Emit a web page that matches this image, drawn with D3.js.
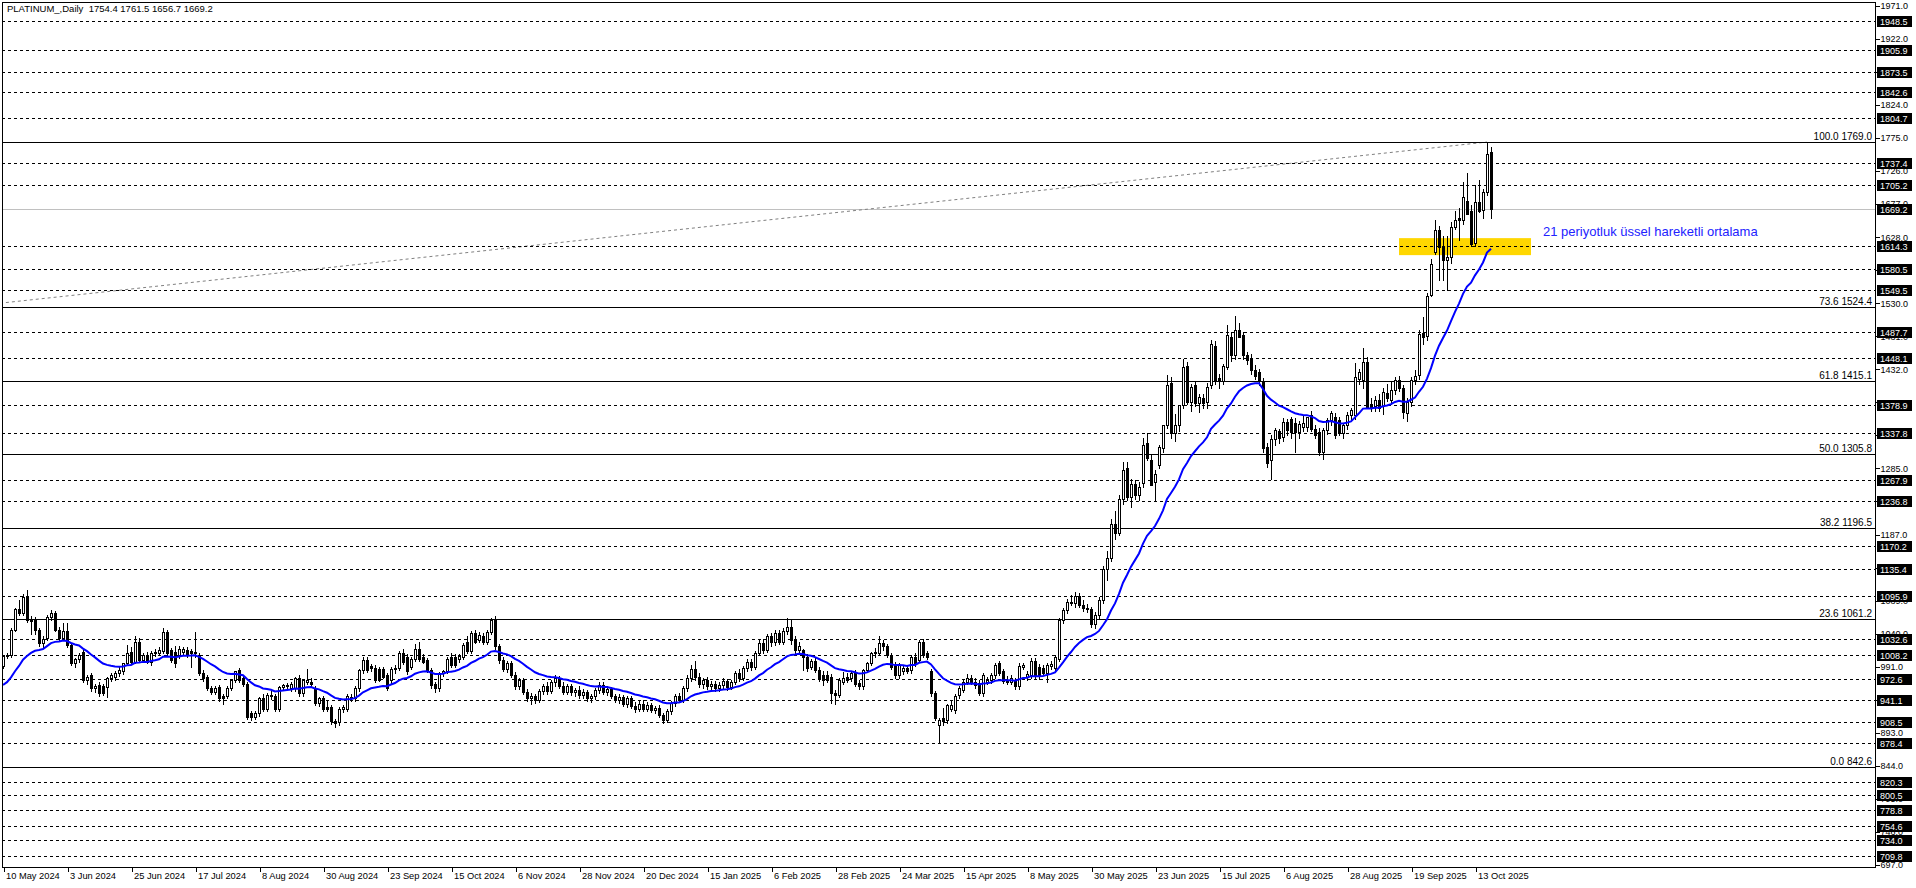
<!DOCTYPE html>
<html><head><meta charset="utf-8">
<script src="https://cdn.jsdelivr.net/npm/d3@7"></script>
<style>html,body{margin:0;padding:0;background:#fff;overflow:hidden}text{font-family:"Liberation Sans",Arial,sans-serif}</style>
</head><body><svg id="c" width="1916" height="888"></svg>
<script>
const title = "PLATINUM_,Daily  1754.4 1761.5 1656.7 1669.2";
const dateLabels = ["10 May 2024","3 Jun 2024","25 Jun 2024","17 Jul 2024","8 Aug 2024","30 Aug 2024","23 Sep 2024","15 Oct 2024","6 Nov 2024","28 Nov 2024","20 Dec 2024","15 Jan 2025","6 Feb 2025","28 Feb 2025","24 Mar 2025","15 Apr 2025","8 May 2025","30 May 2025","23 Jun 2025","15 Jul 2025","6 Aug 2025","28 Aug 2025","19 Sep 2025","13 Oct 2025"];
const opens = [
992,1007,1008,1046,1076,1071,1095,1061,1061,1046,1026,1033,1065,1071,1046,1033,
1044,1023,997,1002,1013,971,979,959,964,962,961,974,976,981,984,997,
1013,998,1028,1001,1008,998,1011,1012,1014,1043,1016,1013,1008,1013,1016,1015,
1011,1008,981,976,959,954,961,947,947,959,971,986,974,966,922,917,
922,944,929,949,947,929,961,962,959,959,974,952,969,969,959,937,
944,932,932,910,909,929,929,944,944,959,986,1001,992,989,987,988,
978,971,987,989,1011,1006,991,1003,1018,1006,1001,986,965,959,981,984,
1006,1005,1003,1006,1028,1015,1041,1031,1037,1028,1043,1061,1021,1001,988,996,
979,962,971,954,944,948,941,955,962,955,968,974,963,954,962,953,
957,949,954,944,947,956,964,953,958,947,942,946,936,944,933,928,
936,929,934,927,930,919,912,925,937,948,941,959,974,988,976,965,
971,962,966,959,964,970,961,968,982,974,989,998,990,1012,1026,1016,
1036,1027,1041,1028,1044,1050,1030,1016,1016,1006,991,999,986,979,979,976,
952,949,969,976,974,982,967,962,986,996,1011,1011,1026,1021,1008,994,
979,984,989,986,1006,1001,1028,1011,984,952,905,915,912,929,927,949,
957,969,974,969,967,952,969,971,979,996,984,972,969,971,962,991,
976,979,1000,991,989,981,992,989,1003,1060,1075,1087,1085,1096,1083,1078,
1076,1054,1068,1090,1136,1152,1203,1190,1240,1285,1242,1262,1246,1263,1322,1297,
1265,1290,1315,1349,1411,1337,1349,1379,1437,1384,1409,1382,1389,1384,1409,1466,
1419,1414,1436,1480,1453,1491,1483,1453,1448,1431,1428,1414,1317,1297,1328,1340,
1332,1354,1358,1352,1339,1346,1347,1364,1344,1339,1310,1342,1357,1362,1357,1337,
1349,1364,1364,1418,1416,1443,1381,1377,1386,1377,1397,1386,1401,1416,1404,1367,
1384,1416,1424,1486,1482,1542,1606,1639,1614,1594,1599,1643,1656,1653,1682,1667,
1619,1680,1668,1695,1754.4];
const highs = [
1009,1012,1048,1078,1090,1099,1105,1066,1064,1049,1037,1068,1075,1074,1050,1056,
1056,1026,1004,1012,1016,979,982,966,968,965,976,981,984,990,997,1023,
1020,1036,1034,1012,1013,1015,1018,1020,1049,1046,1019,1021,1021,1020,1020,1017,
1043,1012,986,979,963,962,964,950,962,973,985,989,979,969,926,925,
946,950,952,956,950,963,966,967,968,976,978,973,987,974,962,946,
947,940,934,913,931,934,950,950,962,988,1006,1006,995,993,990,991,
981,990,993,1014,1017,1010,1006,1024,1027,1010,1004,989,968,983,986,1006,
1011,1010,1010,1026,1036,1044,1046,1042,1041,1046,1063,1066,1024,1005,1000,999,
983,975,974,958,952,951,958,966,968,972,978,977,968,966,965,960,
962,958,957,951,960,968,968,962,961,951,950,949,948,947,938,940,
942,938,937,933,934,923,928,940,951,952,962,978,994,999,981,975,
976,970,970,968,975,973,972,985,988,992,1002,1003,1015,1030,1032,1040,
1041,1045,1046,1048,1063,1061,1036,1028,1018,1010,1003,1004,990,984,985,980,
956,974,983,981,984,986,971,988,998,1013,1019,1037,1031,1024,1012,998,
996,993,994,1008,1012,1031,1032,1014,988,955,915,930,936,940,950,962,
972,980,978,974,971,981,976,982,996,1000,987,977,978,975,996,997,
984,1004,1004,995,993,996,999,1009,1063,1078,1092,1098,1102,1101,1090,1084,
1080,1072,1095,1140,1162,1210,1222,1245,1295,1295,1270,1268,1265,1330,1337,1305,
1282,1320,1350,1423,1420,1365,1372,1447,1443,1410,1415,1395,1396,1412,1476,1474,
1425,1440,1498,1487,1511,1501,1487,1458,1455,1438,1432,1419,1322,1335,1345,1344,
1360,1358,1362,1360,1355,1364,1362,1370,1350,1345,1345,1360,1370,1367,1362,1352,
1368,1375,1441,1432,1463,1450,1390,1393,1396,1405,1410,1415,1420,1422,1408,1390,
1420,1431,1490,1510,1545,1595,1653,1645,1630,1629,1650,1666,1671,1710,1723,1676,
1705,1713,1700,1769,1761.5];
const lows = [
989,1004,1006,1044,1068,1068,1058,1040,1040,1022,1020,1030,1060,1044,1030,1030,
1020,994,990,998,968,966,955,953,948,949,946,970,972,977,980,994,
996,996,998,998,996,994,1007,1008,1011,1007,998,991,1004,1009,1005,990,
1005,978,970,956,950,950,940,936,944,956,968,968,963,913,912,913,
918,925,926,943,926,926,957,958,955,955,948,948,965,962,934,933,
926,926,906,902,905,924,925,940,940,955,982,983,984,969,970,974,
957,967,982,986,995,980,987,1000,1000,996,983,960,953,955,977,981,
991,990,998,1003,1012,1011,1026,1027,1025,1025,1040,1018,996,985,983,976,
958,958,950,940,936,937,938,950,951,952,963,960,950,950,949,948,
945,945,940,938,943,952,950,949,944,938,937,933,932,930,924,925,
925,926,924,922,916,908,909,921,933,938,938,955,970,972,961,960,
958,957,955,955,960,957,958,965,970,971,985,986,987,1008,1012,1013,
1022,1023,1024,1024,1040,1025,1012,1010,986,985,987,983,970,964,968,937,
936,946,966,968,970,963,958,958,983,993,1005,1008,1016,1005,988,975,
975,980,981,982,992,998,1005,1003,948,912,877.5,905,908,926,922,945,
953,965,965,960,949,948,965,967,975,978,967,966,965,958,958,987,
972,975,974,973,978,969,988,985,1000,1056,1070,1082,1080,1080,1074,1072,
1050,1048,1063,1086,1120,1148,1180,1186,1232,1238,1228,1240,1238,1258,1298,1260,
1238,1285,1310,1345,1330,1325,1340,1375,1380,1370,1378,1368,1375,1375,1405,1410,
1405,1410,1432,1445,1448,1480,1448,1440,1425,1418,1408,1310,1287,1269,1320,1322,
1325,1335,1330,1310,1330,1340,1340,1340,1330,1305,1299,1336,1350,1330,1335,1330,
1344,1358,1358,1410,1405,1375,1370,1370,1370,1365,1385,1380,1395,1400,1360,1355,
1378,1410,1418,1470,1475,1540,1603,1564,1565,1550,1590,1640,1624,1648,1662,1615,
1615,1665,1656,1690,1656.7];
const closes = [
1007,1009,1046,1076,1070,1095,1060,1059,1046,1026,1032,1065,1071,1046,1033,1044,
1023,997,1002,1008,971,976,959,963,952,952,974,979,982,986,996,1012,
998,1028,1001,1008,998,1012,1013,1016,1043,1011,1001,996,1018,1018,1008,1011,
1013,981,974,959,954,959,944,944,959,971,984,971,966,917,917,922,
944,929,949,947,929,961,964,964,965,974,952,971,971,966,937,944,
929,929,910,907,929,931,947,946,959,986,1001,986,989,971,972,976,
959,988,989,1011,998,984,1003,1018,1003,998,986,964,959,981,984,1003,
994,993,1007,1023,1015,1041,1028,1038,1028,1043,1061,1021,1001,988,996,979,
962,971,954,944,948,941,955,962,955,968,974,963,954,962,953,957,
949,954,944,947,956,964,953,958,947,942,946,936,944,933,928,936,
929,934,927,930,919,912,925,937,948,941,959,974,988,976,965,971,
962,966,959,964,970,961,968,982,974,989,998,990,1012,1026,1016,1036,
1027,1041,1028,1044,1050,1030,1016,1022,1006,989,999,986,974,971,971,952,
949,971,974,971,981,966,962,986,996,1011,1013,1026,1021,1008,991,979,
994,989,984,1006,996,1028,1008,1006,952,915,912,910,934,934,947,959,
969,974,969,964,952,979,972,979,994,981,970,969,974,962,992,994,
980,1000,977,977,981,994,995,1006,1060,1075,1087,1085,1096,1083,1078,1076,
1054,1068,1090,1136,1152,1203,1190,1240,1282,1242,1262,1246,1258,1320,1300,1260,
1277,1317,1349,1409,1337,1349,1379,1436,1384,1406,1382,1391,1382,1406,1470,1414,
1414,1437,1483,1453,1491,1480,1453,1446,1431,1422,1414,1315,1293,1329,1342,1330,
1354,1342,1339,1339,1351,1352,1362,1344,1335,1310,1342,1357,1367,1335,1337,1349,
1364,1372,1421,1428,1443,1376,1374,1387,1374,1399,1389,1401,1416,1404,1369,1384,
1416,1422,1485,1480,1540,1588,1638,1614,1594,1599,1643,1654,1653,1688,1663,1618,
1680,1666,1695,1751,1669.2];
const emaPeriod = 21;
const emaSeed = 964;
const priceTicks = [1971,1922,1873,1824,1775,1726,1677,1628,1579,1530,1481,1432,1383,1334,1285,1236,1187,1138,1089,1040,991,942,893,844,795,746,697];
const levelLines = [1948.5,1905.9,1873.5,1842.6,1804.7,1737.4,1705.2,1614.3,1580.5,1549.5,1487.7,1448.1,1378.9,1337.8,1267.9,1236.8,1170.2,1135.4,1095.9,1032.6,1008.2,972.6,941.1,908.5,878.4,820.3,800.5,778.8,754.6,734.0,709.8];
const bidPrice = 1669.2;
const fibRatios = ["0.0","23.6","38.2","50.0","61.8","73.6","100.0"];
const fibPrices = [842.6,1061.2,1196.5,1305.8,1415.1,1524.4,1769.0];
const fibAnchorBars = [-1070, 371];
const fibAnchorPrices = [842.6, 1769.0];
const zoneBars = [349, 382];
const zonePrices = [1601.3, 1626.5];
const noteText = "21 periyotluk üssel hareketli ortalama";
const noteBar = 385, notePrice = 1630;

// ---- layout ----
const L = 2, T = 2, R = 1875, B = 867;
const n = closes.length;
const barStep = 4;
const x = d3.scaleLinear().domain([0, n - 1]).range([3, 3 + barStep * (n - 1)]);
const y = d3.scaleLinear().domain([697, 1971]).range([865, 5.8]);
const py = p => Math.round(y(p)) + 0.5;
const px = i => Math.round(x(i));

const svg = d3.select("#c");
svg.append("rect").attr("width",1916).attr("height",888).attr("fill","#fff");
svg.append("defs").append("clipPath").attr("id","pc").append("rect")
  .attr("x",L+1).attr("y",T+1).attr("width",R-L-1).attr("height",B-T-1);
const g = svg.append("g").attr("clip-path","url(#pc)");

// zone
g.append("rect").attr("x",x(zoneBars[0])).attr("width",x(zoneBars[1])-x(zoneBars[0]))
  .attr("y",y(zonePrices[1])).attr("height",y(zonePrices[0])-y(zonePrices[1]))
  .attr("fill","#FFD700");

// bid line
g.append("line").attr("x1",L).attr("x2",R).attr("y1",py(bidPrice)).attr("y2",py(bidPrice))
  .attr("stroke","#c0c0c0").attr("stroke-width",1);

// fib diagonal
g.append("line").attr("x1",x(fibAnchorBars[0])).attr("y1",y(fibAnchorPrices[0]))
  .attr("x2",x(fibAnchorBars[1])).attr("y2",y(fibAnchorPrices[1]))
  .attr("stroke","#808080").attr("stroke-width",1).attr("stroke-dasharray","3,3");

// level lines
g.selectAll("line.lv").data(levelLines).join("line").attr("class","lv")
  .attr("x1",L).attr("x2",R).attr("y1",d=>py(d)).attr("y2",d=>py(d))
  .attr("stroke","#000").attr("stroke-width",1).attr("stroke-dasharray","3,3")
  .attr("shape-rendering","crispEdges");

// fib lines
g.selectAll("line.fb").data(fibPrices).join("line").attr("class","fb")
  .attr("x1",L).attr("x2",R).attr("y1",d=>py(d)).attr("y2",d=>py(d))
  .attr("stroke","#000").attr("stroke-width",1).attr("shape-rendering","crispEdges");

// candles
const idx = d3.range(n);
const cg = g.append("g").attr("shape-rendering","crispEdges");
cg.selectAll("line.w").data(idx).join("line").attr("class","w")
  .attr("x1",i=>px(i)+0.5).attr("x2",i=>px(i)+0.5)
  .attr("y1",i=>Math.round(y(highs[i]))).attr("y2",i=>Math.round(y(lows[i]))+1)
  .attr("stroke","#000").attr("stroke-width",1);
cg.selectAll("rect.b").data(idx).join("rect").attr("class","b")
  .each(function(i){
    const top = Math.round(y(Math.max(opens[i],closes[i])));
    const bot = Math.round(y(Math.min(opens[i],closes[i])));
    const c = px(i);
    const s = d3.select(this);
    if (closes[i] >= opens[i]) {
      s.attr("x",c-0.5).attr("y",top+0.5).attr("width",2).attr("height",Math.max(0,bot-top))
       .attr("fill","#fff").attr("stroke","#000").attr("stroke-width",1);
    } else {
      s.attr("x",c-1).attr("y",top).attr("width",3).attr("height",Math.max(1,bot-top+1))
       .attr("fill","#000");
    }
  });

// EMA
const alpha = 2/(emaPeriod+1);
const ema = [];
closes.forEach((c,i)=>{ ema.push(i===0 ? emaSeed : ema[i-1] + alpha*(c - ema[i-1])); });
g.append("path").datum(idx)
  .attr("d", d3.line().x(i=>x(i)).y(i=>y(ema[i])))
  .attr("fill","none").attr("stroke","#0000ff").attr("stroke-width",2);

// note
g.append("text").attr("x",x(noteBar)).attr("y",y(notePrice)).text(noteText)
  .attr("font-size","13px").attr("fill","#2222ff");

// fib labels
g.selectAll("text.fl").data(fibPrices).join("text").attr("class","fl")
  .attr("x",R-3).attr("y",d=>Math.round(y(d))-2).attr("text-anchor","end")
  .attr("font-size","10px").attr("fill","#000")
  .text((d,k)=>fibRatios[k]+" "+d.toFixed(1));

// frame
svg.append("rect").attr("x",L+0.5).attr("y",T+0.5).attr("width",R-L).attr("height",B-T)
  .attr("fill","none").attr("stroke","#000").attr("stroke-width",1).attr("shape-rendering","crispEdges");

// title
svg.append("text").attr("x",7).attr("y",12).attr("font-size","9.5px").attr("fill","#000")
  .attr("xml:space","preserve").style("white-space","pre").text(title);

// right axis
const ya = svg.append("g").attr("transform",`translate(${R+0.5},0)`)
  .call(d3.axisRight(y).tickValues(priceTicks).tickSize(4).tickSizeOuter(0).tickPadding(1)
    .tickFormat(d3.format(".1f")));
ya.select(".domain").remove();
ya.selectAll("text").attr("font-size","9px").attr("font-family","'Liberation Sans',Arial,sans-serif").attr("fill","#000");
ya.selectAll("line").attr("stroke","#000").attr("shape-rendering","crispEdges");

// highlighted price boxes
const boxes = levelLines.concat([bidPrice]);
const bg = svg.append("g");
bg.selectAll("rect").data(boxes).join("rect")
  .attr("x",R+2).attr("width",35).attr("y",d=>Math.round(y(d))-5).attr("height",11).attr("fill","#000");
bg.selectAll("text").data(boxes).join("text")
  .attr("x",R+5).attr("y",d=>Math.round(y(d))+4).attr("font-size","9px").attr("fill","#fff")
  .text(d=>d.toFixed(1));

// bottom axis
const xa = svg.append("g").attr("transform",`translate(0.5,${B+0.5})`)
  .call(d3.axisBottom(x).tickValues(dateLabels.map((_,k)=>k*16)).tickSize(4).tickSizeOuter(0)
    .tickFormat((d,k)=>dateLabels[k]));
xa.select(".domain").remove();
xa.selectAll("line").attr("stroke","#000").attr("shape-rendering","crispEdges");
xa.selectAll("text").attr("text-anchor","start").attr("dx","2px").attr("dy","0.45em")
  .attr("font-size","9.3px").attr("font-family","'Liberation Sans',Arial,sans-serif").attr("fill","#000");
</script>
</body></html>
